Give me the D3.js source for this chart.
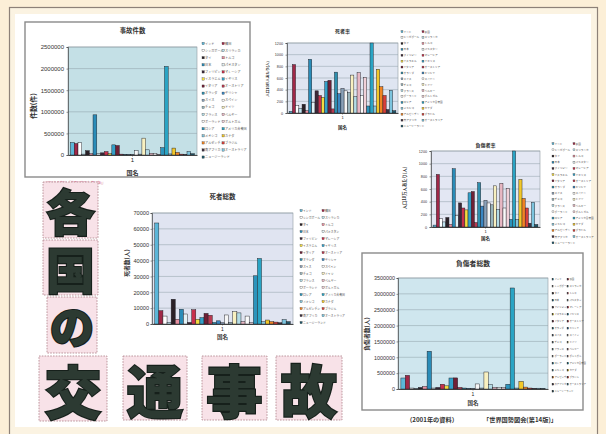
<!DOCTYPE html>
<html><head><meta charset="utf-8">
<script src="https://d3js.org/d3.v7.min.js"></script>
<style>
html,body{margin:0;padding:0;background:#fcefd7;}
svg{display:block;}
</style>
</head><body>
<svg id="poster" width="606" height="434"></svg>
<script>
// ---------- DATA ----------
const categories = ["1"];
const countries = ["インド","韓国","シンガポール","スリランカ","タイ","トルコ","日本","パキスタン","フィリピン","マレーシア","イスラエル","イギリス","イタリア","オーストリア","オランダ","ギリシャ","スイス","スペイン","チェコ","ドイツ","フランス","ベルギー","ポーランド","ポルトガル","ロシア","アメリカ合衆国","メキシコ","カナダ","アルゼンチン","ブラジル","南アフリカ","オーストラリア","ニュージーランド"];
const accidents = [290000,265000,285000,20000,100000,30000,930000,30000,50000,80000,30000,235000,220000,20000,15000,10000,12000,100000,20000,390000,120000,40000,40000,15000,170000,2050000,25000,160000,60000,20000,10000,80000,30000];
const deathRate = [30,830,130,80,150,40,920,180,380,300,270,540,560,70,700,330,420,380,350,650,280,690,300,610,120,1200,120,750,450,300,60,390,40];
const injuryRate = [30,830,130,80,150,40,920,180,380,300,270,540,560,70,700,330,420,380,350,650,280,690,300,610,120,1200,120,750,450,300,60,390,40];
const deaths = [63700,8400,5000,1000,15600,3000,9300,6300,1000,9000,3000,4000,6700,5500,1000,2000,800,5700,1000,7800,7000,1500,5000,800,30400,41300,1500,2500,1500,1200,800,2800,1500];
const injuries = [347000,431000,30000,20000,50000,80000,1190000,30000,50000,150000,100000,347000,350000,50000,30000,20000,15000,160000,30000,536000,140000,50000,50000,40000,150000,3185000,30000,240000,60000,30000,20000,25000,15000];
const accidentTicks = [0,500000,1000000,1500000,2000000,2500000];
const rateTicks = [0,200,400,600,800,1000,1200];
const deathTicks = [0,10000,20000,30000,40000,50000,60000,70000];
const injuryTicks = [0,500000,1000000,1500000,2000000,2500000,3000000,3500000];
const bigChars = ["各","国","の","交","通","事","故"];
const noteSource = "（2001年の資料）";
const noteBook = "「世界国勢図会(第14版)」";

// ---------- STYLE ----------
const palette = ["#5cb6d8","#a02848","#ffffff","#bfe3ee","#2a2026","#e890a0","#2a8cb8","#e4f2f6","#3c2838","#c8304c","#f2dc40","#34a0c8","#702036","#b83a50","#2f8fae","#3a86c2","#8aa0b8","#f6f6f6","#98b4bc","#f8f0c0","#b4dce6","#e8b8c4","#fafafa","#f0d0d8","#2c94bc","#2aa4c4","#86c6dc","#f2c82a","#f08424","#d8403a","#3e3040","#7cc4de","#21586a"];
const color = d3.scaleOrdinal().domain(countries).range(palette);
const LATIN = "'Liberation Sans', Arial, sans-serif";
const CJK = "'Noto Sans CJK JP', 'Noto Sans', sans-serif";

const svg = d3.select("#poster");

svg.append("rect").attr("x",0).attr("y",0).attr("width",606).attr("height",434).attr("fill","#fcefd7");
svg.append("rect").attr("x",9.5).attr("y",7.5).attr("width",588).attr("height",440)
  .attr("fill","#fbf3e2").attr("stroke","#8d8178").attr("stroke-width",1.2);
svg.append("rect").attr("x",15).attr("y",14).attr("width",576).attr("height",413).attr("fill","#ffffff");

function drawChart(cfg){
  const g = svg.append("g");
  if(cfg.frame){
    g.append("rect").attr("x",cfg.frame[0]).attr("y",cfg.frame[1]).attr("width",cfg.frame[2]).attr("height",cfg.frame[3])
      .attr("fill","#ffffff").attr("stroke","#8a8a8a").attr("stroke-width",1.4);
  }
  const x = d3.scaleBand().domain(categories).range([cfg.l, cfg.r]).paddingInner(0).paddingOuter(0.02);
  const xs = d3.scaleBand().domain(countries).range([0, x.bandwidth()]).padding(0);
  const y = d3.scaleLinear().domain([0, d3.max(cfg.ticks)]).range([cfg.b, cfg.t]);

  g.append("rect").attr("x",cfg.l).attr("y",cfg.t).attr("width",cfg.r-cfg.l).attr("height",cfg.b-cfg.t)
    .attr("fill",cfg.bg).attr("stroke","#8f9aa0").attr("stroke-width",0.6);
  g.selectAll("line.grid").data(cfg.ticks.slice(1)).join("line").attr("class","grid")
    .attr("x1",cfg.l).attr("x2",cfg.r).attr("y1",d=>y(d)).attr("y2",d=>y(d))
    .attr("stroke","#8e9ea6").attr("stroke-width",0.5);

  g.selectAll("rect.bar").data(cfg.values).join("rect").attr("class","bar")
    .attr("x",(d,i)=>x(categories[0])+xs(countries[i]))
    .attr("width",xs.bandwidth())
    .attr("y",d=>y(d)).attr("height",d=>cfg.b-y(d))
    .attr("fill",(d,i)=>color(countries[i]))
    .attr("stroke","#1e1e24").attr("stroke-width",0.45);

  const ya = g.append("g").attr("transform",`translate(${cfg.l},0)`)
    .call(d3.axisLeft(y).tickValues(cfg.ticks).tickSize(1.5).tickPadding(cfg.tickPad).tickFormat(d3.format("d")));
  ya.select(".domain").attr("stroke","#333").attr("stroke-width",0.6);
  ya.selectAll("line").attr("stroke","#333").attr("stroke-width",0.5);
  ya.selectAll("text").attr("font-family",LATIN).attr("font-size",cfg.tickFs).attr("fill","#333");

  const xa = g.append("g").attr("transform",`translate(0,${cfg.b})`)
    .call(d3.axisBottom(x).tickSize(1.5).tickPadding(1.5).tickSizeOuter(0));
  xa.select(".domain").attr("stroke","#222").attr("stroke-width",0.8);
  xa.selectAll("line").attr("stroke","#333").attr("stroke-width",0.5);
  xa.selectAll("text").attr("font-family",LATIN).attr("font-size",cfg.catFs).attr("fill","#222");

  const cx = (cfg.l+cfg.r)/2;
  g.append("text").attr("x",cx).attr("y",cfg.titleY).attr("text-anchor","middle")
    .attr("font-family",CJK).attr("font-weight","bold").attr("font-size",cfg.titleFs).attr("fill","#333").text(cfg.title);
  g.append("text").attr("x",cx).attr("y",cfg.xTitleY).attr("text-anchor","middle")
    .attr("font-family",CJK).attr("font-weight","bold").attr("font-size",cfg.xTitleFs).attr("fill","#333").text("国名");
  g.append("text").attr("transform",`translate(${cfg.yLabX},${cfg.yLabY}) rotate(-90)`).attr("text-anchor","middle")
    .attr("dominant-baseline","central")
    .attr("font-family",CJK).attr("font-weight","bold").attr("font-size",cfg.yLabFs).attr("fill","#333").text(cfg.yLabel);

  const lg = g.append("g");
  const items = lg.selectAll("g").data(countries).join("g")
    .attr("transform",(d,i)=>`translate(${cfg.lx + (i%2)*cfg.lcw},${cfg.ly + Math.floor(i/2)*cfg.ldy})`);
  items.append("rect").attr("x",0).attr("y",-cfg.lfs*0.7).attr("width",cfg.lfs*0.75).attr("height",cfg.lfs*0.75)
    .attr("fill",d=>color(d)).attr("stroke","#333").attr("stroke-width",0.3);
  items.append("text").attr("x",cfg.lfs*1.0).attr("y",0).attr("font-family",CJK).attr("font-size",cfg.lfs)
    .attr("fill","#555").text(d=>d);
}

drawChart({frame:[25,22,225,155], l:68,t:47,r:197,b:155, bg:"#c4e0e6", values:accidents, ticks:accidentTicks,
  title:"事故件数", titleY:33, titleFs:6.4, xTitleY:175, xTitleFs:6, catFs:6, tickFs:6, tickPad:2.5,
  yLabel:"件数(件)", yLabX:33, yLabY:106, yLabFs:6.8,
  lx:202, ly:44.5, ldy:7.1, lcw:20, lfs:3.1});

drawChart({l:287,t:43,r:398,b:113, bg:"#dfe5f1", values:deathRate, ticks:rateTicks,
  title:"死者率", titleY:32.5, titleFs:5, xTitleY:129, xTitleFs:4.5, catFs:4, tickFs:3.7, tickPad:2.5,
  yLabel:"人口10万人あたり(人)", yLabX:267, yLabY:79, yLabFs:3.6,
  lx:401, ly:32.5, ldy:5.9, lcw:21, lfs:2.6});

drawChart({l:431,t:151,r:540,b:227, bg:"#e3e7f3", values:injuryRate, ticks:rateTicks,
  title:"負傷者率", titleY:147, titleFs:5, xTitleY:240, xTitleFs:4.5, catFs:4, tickFs:3.7, tickPad:2.5,
  yLabel:"人口10万人あたり(人)", yLabX:404, yLabY:188, yLabFs:4.3,
  lx:552, ly:144.5, ldy:6.2, lcw:21, lfs:2.6});

drawChart({l:152,t:213,r:293,b:324, bg:"#e0e4f1", values:deaths, ticks:deathTicks,
  title:"死者総数", titleY:199, titleFs:6.5, xTitleY:339, xTitleFs:5.5, catFs:5, tickFs:5.6, tickPad:1.5,
  yLabel:"死者数(人)", yLabX:126, yLabY:263, yLabFs:5.8,
  lx:300, ly:211.5, ldy:7.0, lcw:22, lfs:2.9});

drawChart({frame:[362,253,221,157], l:398,t:278,r:548,b:389, bg:"#cfe6ee", values:injuries, ticks:injuryTicks,
  title:"負傷者総数", titleY:266, titleFs:6.8, xTitleY:405, xTitleFs:5.5, catFs:5, tickFs:5.4, tickPad:1.5,
  yLabel:"負傷者数(人)", yLabX:366, yLabY:334, yLabFs:5.8,
  lx:552, ly:280, ldy:7.0, lcw:15, lfs:2.4});

svg.append("text").attr("x",43).attr("y",184).attr("font-family",CJK).attr("font-size",3.2)
  .attr("fill","#d06080").text(noteSource + noteBook);

svg.append("text").attr("x",432).attr("y",422).attr("text-anchor","middle").attr("font-family",CJK)
  .attr("font-weight","bold").attr("font-size",6.2).attr("fill","#333").text(noteSource);
svg.append("text").attr("x",520).attr("y",422).attr("text-anchor","middle").attr("font-family",CJK)
  .attr("font-weight","bold").attr("font-size",6.2).attr("fill","#333").text(noteBook);

const boxes = [[43,182,55,56],[43,240,55,55],[47,297,50,56],[39,356,68,65],[123,356,64,64],[202,356,65,64],[276,356,66,64]];
const bgG = svg.append("g");
bgG.selectAll("rect").data(bigChars).join("rect")
  .attr("x",(d,i)=>boxes[i][0]).attr("y",(d,i)=>boxes[i][1]).attr("width",(d,i)=>boxes[i][2]).attr("height",(d,i)=>boxes[i][3])
  .attr("fill","#f8e2e8").attr("stroke","#b78c94").attr("stroke-width",0.9).attr("stroke-dasharray","1.6,1.2");
bgG.selectAll("text").data(bigChars).join("text")
  .attr("x",(d,i)=>boxes[i][0]+boxes[i][2]/2)
  .attr("y",(d,i)=>boxes[i][1]+boxes[i][3]/2)
  .attr("text-anchor","middle").attr("dominant-baseline","central")
  .attr("font-family",CJK).attr("font-weight",900)
  .attr("font-size",(d,i)=>Math.min(boxes[i][2],boxes[i][3])*0.88)
  .attr("fill","#2c3a32").attr("stroke","#16201b").attr("stroke-width",2.2).attr("paint-order","stroke")
  .text(d=>d);
</script>
</body></html>
